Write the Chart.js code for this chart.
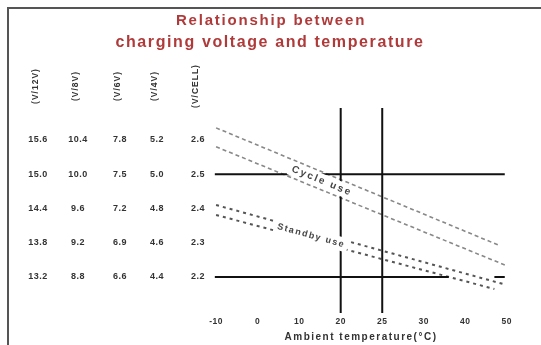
<!DOCTYPE html>
<html lang="en">
<head>
<meta charset="UTF-8">
<title>Charging voltage vs temperature</title>
<script src="https://cdn.jsdelivr.net/npm/chart.js"></script>
<style>
  html, body { margin: 0; padding: 0; background: #fff; }
  #wrap { position: relative; width: 541px; height: 345px; }
  #frame { position: absolute; left: 7px; top: 7px; right: -4px; bottom: -4px; border-left: 2px solid #555; border-top: 2px solid #555; pointer-events: none; }
</style>
</head>
<body>
<div id="wrap">
  <canvas id="chart" width="541" height="345"></canvas>
  <div id="frame"></div>
</div>
<script>
// temperature tick labels (evenly spaced positions 0..7)
const tempLabels = ['-10', '0', '10', '20', '25', '30', '40', '50'];

// voltage scale rows
const voltsPerCell = [2.6, 2.5, 2.4, 2.3, 2.2];
const volts12 = [15.6, 15.0, 14.4, 13.8, 13.2];
const volts8 = [10.4, 10.0, 9.6, 9.2, 8.8];
const volts6 = [7.8, 7.5, 7.2, 6.9, 6.6];
const volts4 = [5.2, 5.0, 4.8, 4.6, 4.4];
const unitHeaders = ['(V/12V)', '(V/8V)', '(V/6V)', '(V/4V)', '(V/CELL)'];

// band edges [tempPosition, volts per cell]
const cycleUpper = [[0, 2.635], [6.8, 2.293]];
const cycleLower = [[0, 2.58], [6.95, 2.235]];
const standbyUpper = [[0, 2.41], [6.9, 2.18]];
const standbyLower = [[0, 2.381], [6.7, 2.165]];

// reference lines
const refVolts = [2.5, 2.2];
const refTemps = [3, 4];

const Y_MIN = 2.095, Y_MAX = 2.693;

const pts = arr => arr.map(p => ({x: p[0], y: p[1]}));

function lineAt(arr, x) {
  const [a, b] = arr;
  return a[1] + (b[1] - a[1]) * (x - a[0]) / (b[0] - a[0]);
}

const datasets = [
  {data: [{x: -0.03, y: refVolts[0]}, {x: 6.95, y: refVolts[0]}], borderColor: '#111', borderWidth: 2},
  {data: [{x: -0.03, y: refVolts[1]}, {x: 5.6, y: refVolts[1]}, {x: 5.61, y: null}, {x: 6.7, y: refVolts[1]}, {x: 6.95, y: refVolts[1]}], borderColor: '#111', borderWidth: 2, spanGaps: false},
  {data: [{x: refTemps[0], y: Y_MAX}, {x: refTemps[0], y: Y_MIN}], borderColor: '#111', borderWidth: 2},
  {data: [{x: refTemps[1], y: Y_MAX}, {x: refTemps[1], y: Y_MIN}], borderColor: '#111', borderWidth: 2},
  {data: pts(cycleUpper), borderColor: '#888', borderWidth: 1.6, borderDash: [4, 3]},
  {data: pts(cycleLower), borderColor: '#888', borderWidth: 1.6, borderDash: [4, 3]},
  {data: pts(standbyUpper), borderColor: '#555', borderWidth: 2, borderDash: [3, 4]},
  {data: pts(standbyLower), borderColor: '#555', borderWidth: 2, borderDash: [3, 4]}
];

const textPlugin = {
  id: 'texts',
  afterDatasetsDraw(chart) {
    const ctx = chart.ctx;
    const xs = chart.scales.x, ys = chart.scales.y;
    ctx.save();

    // title
    ctx.fillStyle = '#b03a3a';
    ctx.font = 'bold 15px "Liberation Sans", Arial, sans-serif';
    ctx.letterSpacing = '1.8px';
    ctx.textAlign = 'center';
    ctx.textBaseline = 'middle';
    ctx.fillText('Relationship between', 271, 21);
    ctx.font = 'bold 16px "Liberation Sans", Arial, sans-serif';
    ctx.letterSpacing = '1.6px';
    ctx.fillText('charging voltage and temperature', 270, 43);

    // voltage columns
    ctx.fillStyle = '#333';
    ctx.letterSpacing = '0.5px';
    ctx.font = 'bold 9px "Liberation Sans", Arial, sans-serif';
    const cols = [volts12, volts8, volts6, volts4, voltsPerCell];
    const colX = [38, 78, 120, 157, 198];
    cols.forEach((col, c) => {
      col.forEach((v, r) => {
        ctx.fillText(v.toFixed(1), colX[c], ys.getPixelForValue(voltsPerCell[r]));
      });
    });

    // rotated unit headers
    ctx.font = 'bold 8.5px "Liberation Sans", Arial, sans-serif';
    ctx.letterSpacing = '1px';
    unitHeaders.forEach((h, c) => {
      ctx.save();
      ctx.translate(colX[c] - 2, 86);
      ctx.rotate(-Math.PI / 2);
      ctx.fillText(h, 0, 0);
      ctx.restore();
    });

    // x ticks
    ctx.font = 'bold 8.5px "Liberation Sans", Arial, sans-serif';
    ctx.letterSpacing = '0.5px';
    tempLabels.forEach((t, i) => {
      ctx.fillText(t, xs.getPixelForValue(i), 322);
    });

    // x title
    ctx.font = 'bold 10px "Liberation Sans", Arial, sans-serif';
    ctx.letterSpacing = '1.5px';
    ctx.fillText('Ambient temperature(\u00B0C)', 361, 337);

    // band labels
    function bandLabel(text, up, low, xv, boxed, size, spacing) {
      const yv = (lineAt(up, xv) + lineAt(low, xv)) / 2;
      const px = xs.getPixelForValue(xv), py = ys.getPixelForValue(yv);
      const dx = xs.getPixelForValue(up[1][0]) - xs.getPixelForValue(up[0][0]);
      const dy = ys.getPixelForValue(up[1][1]) - ys.getPixelForValue(up[0][1]);
      ctx.save();
      ctx.translate(px, py);
      ctx.rotate(Math.atan2(dy, dx));
      ctx.font = 'bold ' + size + 'px "Liberation Sans", Arial, sans-serif';
      ctx.letterSpacing = spacing + 'px';
      const w = ctx.measureText(text).width;
      if (boxed) {
        ctx.fillStyle = '#fff';
        ctx.fillRect(-w / 2 - 3, -7, w + 6, 14);
      }
      ctx.fillStyle = '#444';
      ctx.fillText(text, 0, 0);
      ctx.restore();
    }
    bandLabel('Cycle use', cycleUpper, cycleLower, 2.55, true, 10, 2);
    bandLabel('Standby use', standbyUpper, standbyLower, 2.29, true, 9, 1.5);

    ctx.restore();
  }
};

new Chart(document.getElementById('chart').getContext('2d'), {
  type: 'line',
  data: {datasets},
  options: {
    responsive: false,
    animation: false,
    layout: {padding: {left: 214, right: 30, top: 108, bottom: 32}},
    elements: {point: {radius: 0}, line: {tension: 0}},
    plugins: {legend: {display: false}, tooltip: {enabled: false}},
    scales: {
      x: {type: 'linear', min: -0.05, max: 7.1, display: false},
      y: {type: 'linear', min: Y_MIN, max: Y_MAX, display: false}
    }
  },
  plugins: [textPlugin]
});
</script>
</body>
</html>
